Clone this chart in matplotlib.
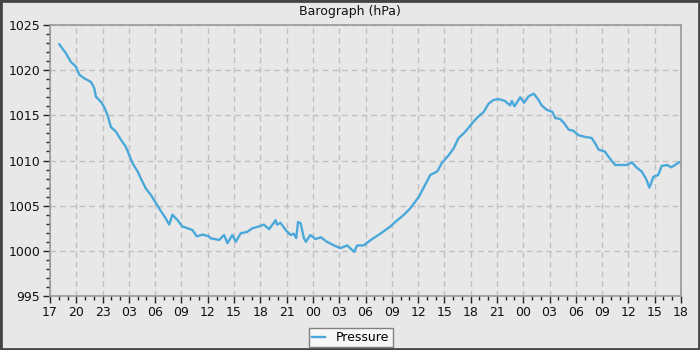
import matplotlib
matplotlib.use("Agg")
import matplotlib.pyplot as plt
from matplotlib.patches import Rectangle
from matplotlib.ticker import MultipleLocator

# hours since the first tick (17:00)
hours = [1.06, 1.82, 2.39, 2.96, 3.34, 3.9, 4.67, 5.05, 5.24, 5.81, 6.19, 6.57, 6.95, 7.52,
         8.09, 8.66, 9.04, 9.42, 9.99, 10.37, 10.94, 11.5, 12.08, 12.65, 13.2, 13.6, 13.97,
         14.55, 15.1, 15.68, 16.25, 16.75, 17.4, 18.15, 18.3, 19.3, 19.86, 20.25, 20.8, 21.2,
         21.76, 22.5, 23.1, 23.85, 24.4, 25.0, 25.75, 25.9, 26.3, 26.9, 27.45, 27.8, 28.1,
         28.3, 28.6, 28.97, 29.2, 29.7, 30.3, 30.9, 31.6, 32.4, 33.15, 33.9, 34.7, 35.05,
         35.8, 36.6, 37.7, 38.85, 39.4, 40.4, 41.1, 42.1, 42.8, 43.4, 44.2, 44.7, 45.5,
         46.06, 46.6, 47.4, 48.15, 48.7, 49.5, 50.05, 50.6, 51.2, 51.9, 52.5, 52.7, 53.0,
         53.65, 54.1, 54.6, 55.2, 55.75, 56.1, 56.7, 57.3, 57.65, 58.2, 58.6, 59.2, 59.7,
         60.3, 61.1, 61.8, 62.2, 62.6, 63.3, 63.9, 64.5, 65.05, 65.8, 66.4, 66.9, 67.5,
         68.0, 68.4, 68.85, 69.4, 69.8, 70.4, 70.9, 71.3, 71.8]
pressure = [1022.86, 1021.87, 1020.9, 1020.4, 1019.5, 1019.1, 1018.7, 1018.0, 1017.06, 1016.5,
            1015.9, 1015.0, 1013.7, 1013.2, 1012.3, 1011.5, 1010.6, 1009.7, 1008.8, 1008.0,
            1006.9, 1006.2, 1005.3, 1004.4, 1003.6, 1002.9, 1004.0, 1003.4, 1002.7, 1002.5,
            1002.3, 1001.6, 1001.8, 1001.6, 1001.4, 1001.2, 1001.75, 1000.85, 1001.75, 1001.0,
            1001.94, 1002.1, 1002.5, 1002.7, 1002.9, 1002.4, 1003.4, 1002.9, 1003.1, 1002.3,
            1001.75, 1001.9, 1001.4, 1003.2, 1003.05, 1001.4, 1001.0, 1001.75, 1001.3, 1001.5,
            1001.0, 1000.6, 1000.3, 1000.6, 999.9, 1000.6, 1000.6, 1001.2, 1001.9, 1002.7,
            1003.2, 1004.0, 1004.7, 1006.0, 1007.3, 1008.4, 1008.8, 1009.7, 1010.6, 1011.35,
            1012.45, 1013.2, 1014.1, 1014.7, 1015.4, 1016.3, 1016.7, 1016.8, 1016.6, 1016.1,
            1016.6, 1016.0, 1017.0, 1016.4, 1017.1, 1017.4, 1016.7, 1016.1, 1015.6, 1015.4,
            1014.7, 1014.6, 1014.2, 1013.4, 1013.3, 1012.8, 1012.6, 1012.5, 1011.9, 1011.2,
            1011.0, 1010.2, 1009.5, 1009.5, 1009.5, 1009.8, 1009.25, 1008.8, 1008.0, 1007.0,
            1008.2, 1008.4, 1009.4, 1009.5, 1009.25, 1009.5, 1009.8]

tick_labels = ["17", "20", "23", "03", "06", "09", "12", "15", "18", "21", "00", "03", "06",
               "09", "12", "15", "18", "21", "00", "03", "06", "09", "12", "15", "18"]
y_ticks = [995, 1000, 1005, 1010, 1015, 1020, 1025]

BG = "#e8e8e8"
fig = plt.figure(figsize=(7, 3.5), dpi=100, facecolor=BG)
ax = fig.add_axes([50/700, 1-296/350, (681-50)/700, (296-25)/350])
ax.set_facecolor(BG)

line, = ax.plot(hours, pressure, color="#4aa8da", lw=1.7, label="Pressure")

ax.set_xlim(0, 72)
ax.set_ylim(995, 1025)
ax.set_xticks(range(0, 73, 3))
ax.set_xticklabels(tick_labels)
ax.xaxis.set_minor_locator(MultipleLocator(1))
ax.set_yticks(y_ticks)
ax.yaxis.set_minor_locator(MultipleLocator(1))

ax.tick_params(which="major", length=5, width=1, color="#222222", labelsize=9,
               labelcolor="#111111", pad=2)
ax.tick_params(which="minor", length=3, width=1, color="#222222")
for s in ax.spines.values():
    s.set_color("#999999")
    s.set_linewidth(1.2)

ax.grid(True, which="major", color="#c0c0c0", linestyle=(0, (4, 3)), linewidth=1)
ax.set_axisbelow(True)

fig.text(350/700, 1-12/350, "Barograph (hPa)", ha="center", va="center",
         fontsize=9, color="#111111")

leg = fig.legend(handles=[line], loc="upper center", bbox_to_anchor=(351/700, 1-328/350),
                 fontsize=9, frameon=True, fancybox=False, handlelength=1.0,
                 handletextpad=0.9, borderpad=0.25, borderaxespad=0)
leg.get_frame().set_facecolor("#f7f7f7")
leg.get_frame().set_edgecolor("#808080")
leg.get_frame().set_linewidth(1)
leg.get_frame().set_alpha(1)

fig.patches.append(Rectangle((0, 0), 1, 1, transform=fig.transFigure, fill=False,
                             edgecolor="#444444", linewidth=3.4, zorder=10))

fig.savefig("out.png", dpi=100, facecolor=BG)
